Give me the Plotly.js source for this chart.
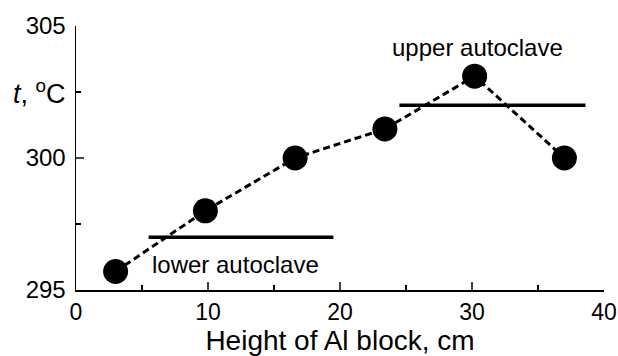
<!DOCTYPE html>
<html><head><meta charset="utf-8">
<script src="https://cdn.plot.ly/plotly-3.0.1.min.js"></script>
<style>body{margin:0;background:#fff}#c{width:618px;height:356px}</style>
</head><body><div id="c"></div>
<script>
const heights = [3, 9.8, 16.6, 23.4, 30.2, 37];
const temps = [295.7, 298.0, 300.0, 301.1, 303.1, 300.0];
const lowerX = [5.5, 19.5];
const lowerT = [297.0, 297.0];
const upperX = [24.5, 38.6];
const upperT = [302.0, 302.0];
const xTicks = [0, 10, 20, 30, 40];
const yTicks = [295, 300, 305];
const font = 'Liberation Sans, Arial, sans-serif';

const traces = [
  {x: lowerX, y: lowerT, mode: 'lines', line: {color: '#000', width: 3.5}, hoverinfo: 'skip'},
  {x: upperX, y: upperT, mode: 'lines', line: {color: '#000', width: 3.5}, hoverinfo: 'skip'},
  {x: heights, y: temps, mode: 'lines+markers',
   line: {color: '#000', width: 3, dash: '7px,4px'},
   marker: {color: '#000', size: 25}}
];
const layout = {
  width: 618, height: 356,
  margin: {l: 76, r: 14, t: 26, b: 66},
  showlegend: false,
  paper_bgcolor: '#fff', plot_bgcolor: '#fff',
  font: {family: font, color: '#000', size: 24},
  xaxis: {range: [0, 40], tickvals: xTicks, ticks: 'inside', ticklen: 8, tickwidth: 1.5,
    showline: true, linewidth: 1.5, linecolor: '#000', showgrid: false, zeroline: false,
    minor: {dtick: 5, tick0: 0, ticks: 'inside', ticklen: 5, tickwidth: 1.5, tickcolor: '#000', showgrid: false},
    tickfont: {size: 23}, ticklabelstandoff: 1,
    title: {text: 'Height of Al block, cm', font: {size: 28}, standoff: 9}},
  yaxis: {range: [295, 305], tickvals: yTicks, ticks: 'inside', ticklen: 8, tickwidth: 1.5,
    showline: true, linewidth: 1.5, linecolor: '#000', showgrid: false, zeroline: false,
    minor: {dtick: 2.5, tick0: 295, ticks: 'inside', ticklen: 5, tickwidth: 1.5, tickcolor: '#000', showgrid: false},
    tickfont: {size: 24}, ticklabelstandoff: 4},
  annotations: [
    {text: '<i>t</i>, <sup>o</sup>C', xref: 'paper', yref: 'paper', x: -0.016, y: 0.75,
     xanchor: 'right', yanchor: 'middle', showarrow: false, font: {size: 27}},
    {text: 'lower autoclave', xref: 'x', yref: 'y', x: 5.6, y: 295.95, xanchor: 'left', yanchor: 'middle',
     showarrow: false, font: {size: 24}},
    {text: 'upper autoclave', xref: 'x', yref: 'y', x: 23.8, y: 304.2, xanchor: 'left', yanchor: 'middle',
     showarrow: false, font: {size: 24}}
  ]
};
Plotly.newPlot('c', traces, layout, {staticPlot: true});
</script></body></html>
